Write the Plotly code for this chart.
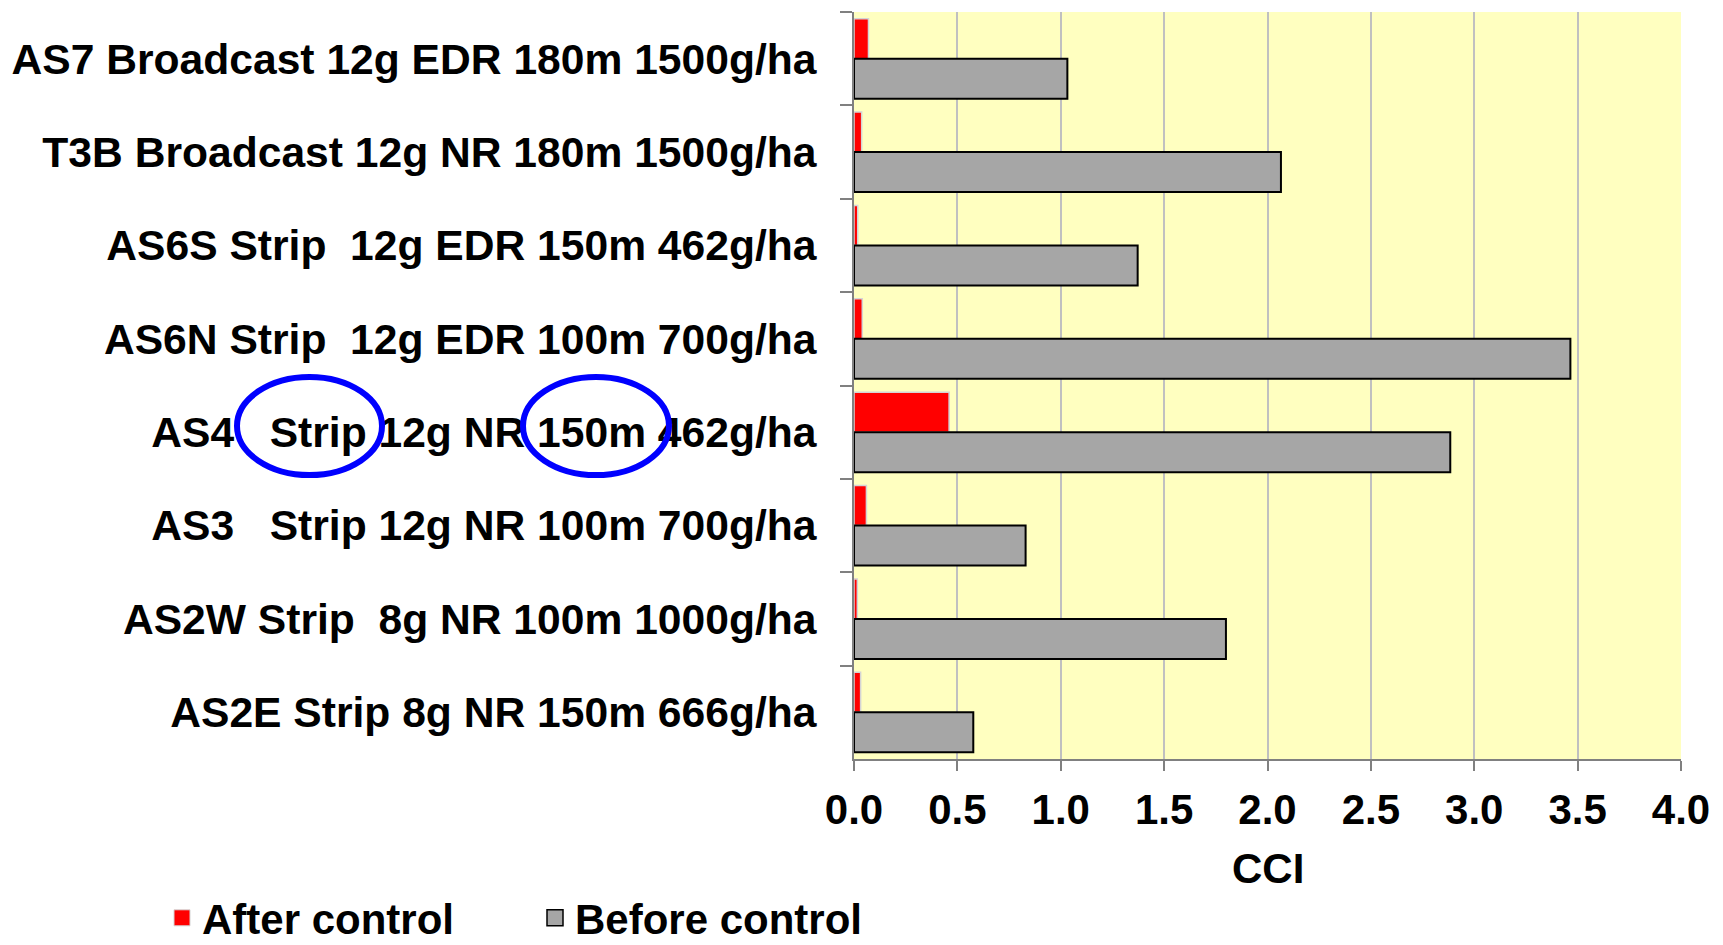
import plotly.graph_objects as go

NB = "\u00a0"
categories = [
    "AS7 Broadcast 12g EDR 180m 1500g/ha",
    "T3B Broadcast 12g NR 180m 1500g/ha",
    "AS6S Strip" + NB * 2 + "12g EDR 150m 462g/ha",
    "AS6N Strip" + NB * 2 + "12g EDR 100m 700g/ha",
    "AS4" + NB * 2 + " Strip 12g NR 150m 462g/ha",
    "AS3" + NB * 2 + " Strip 12g NR 100m 700g/ha",
    "AS2W Strip" + NB * 2 + "8g NR 100m 1000g/ha",
    "AS2E Strip 8g NR 150m 666g/ha",
]
after_control = [0.07, 0.037, 0.018, 0.04, 0.46, 0.06, 0.016, 0.032]
before_control = [1.032, 2.065, 1.372, 3.465, 2.884, 0.83, 1.799, 0.577]
x_ticks = [0.0, 0.5, 1.0, 1.5, 2.0, 2.5, 3.0, 3.5, 4.0]
x_tick_labels = ["0.0", "0.5", "1.0", "1.5", "2.0", "2.5", "3.0", "3.5", "4.0"]
x_title = "CCI"

W, H = 1723, 945
L, R, T, B = 854, 42, 12, 186
FONT = "Liberation Sans, Arial, sans-serif"

fig = go.Figure()
fig.add_trace(go.Bar(
    y=categories, x=after_control, orientation="h", name="After control",
    marker=dict(color="#FF0000", line=dict(color="#D4D4D4", width=1.5)),
    showlegend=False,
))
fig.add_trace(go.Bar(
    y=categories, x=before_control, orientation="h", name="Before control",
    marker=dict(color="#A6A6A6", line=dict(color="#000000", width=2)),
    showlegend=False,
))
# legend entries
fig.add_trace(go.Scatter(
    x=[None], y=[None], mode="markers", name="After control",
    marker=dict(symbol="square", size=16, color="#FF0000", line=dict(color="#D4D4D4", width=1)),
))
fig.add_trace(go.Scatter(
    x=[None], y=[None], mode="markers", name="Before control",
    marker=dict(symbol="square", size=16, color="#A6A6A6", line=dict(color="#000000", width=1.5)),
))

pw = W - L - R
ph = H - T - B

def px_to_paper_x(px):
    return (px - L) / pw

def px_to_paper_y(py):
    return (H - B - py) / ph

ellipses = [(237, 377, 382, 475), (523, 377, 669, 475)]
shapes = []
for x0, y0, x1, y1 in ellipses:
    shapes.append(dict(
        type="circle", xref="paper", yref="paper",
        x0=px_to_paper_x(x0), x1=px_to_paper_x(x1),
        y0=px_to_paper_y(y1), y1=px_to_paper_y(y0),
        line=dict(color="#0000FF", width=6), layer="above",
    ))

fig.update_layout(
    width=W, height=H,
    margin=dict(l=L, r=R, t=T, b=B, pad=0, autoexpand=False),
    paper_bgcolor="white",
    plot_bgcolor="#FFFFC0",
    barmode="group", bargap=0.143, bargroupgap=0,
    font=dict(family=FONT, size=42, color="black"),
    shapes=shapes,
    annotations=[dict(
        text="<b>" + x_title + "</b>", xref="paper", yref="paper",
        x=0.5, y=px_to_paper_y(868), xanchor="center", yanchor="middle",
        showarrow=False, font=dict(family=FONT, size=42, color="black"),
    )],
    legend=dict(
        orientation="h", xref="container", yref="container",
        x=162 / W, xanchor="left", y=1 - 918 / H, yanchor="middle",
        font=dict(family=FONT, size=42, color="black", weight="bold"),
        entrywidth=328, bgcolor="rgba(0,0,0,0)", itemclick=False,
    ),
)
fig.update_xaxes(
    range=[0, 4], tickvals=x_ticks, ticktext=x_tick_labels,
    showgrid=True, gridcolor="#C0C0C0", gridwidth=2,
    showline=True, linecolor="#808080", linewidth=2,
    ticks="outside", ticklen=10, tickwidth=1.5, tickcolor="#808080",
    tickfont=dict(family=FONT, size=42, color="black", weight="bold"),
    ticklabelstandoff=3,
    zeroline=False, fixedrange=True, automargin=False,
)
fig.update_yaxes(
    autorange="reversed", showgrid=False,
    showline=True, linecolor="#808080", linewidth=2,
    ticks="outside", ticklen=12, tickwidth=1.5, tickcolor="#808080",
    tickson="boundaries",
    tickfont=dict(family=FONT, size=42.6, color="black", weight="bold"),
    ticklabelstandoff=27, fixedrange=True, automargin=False,
)

fig.write_html("out.html", config={"displayModeBar": False})
